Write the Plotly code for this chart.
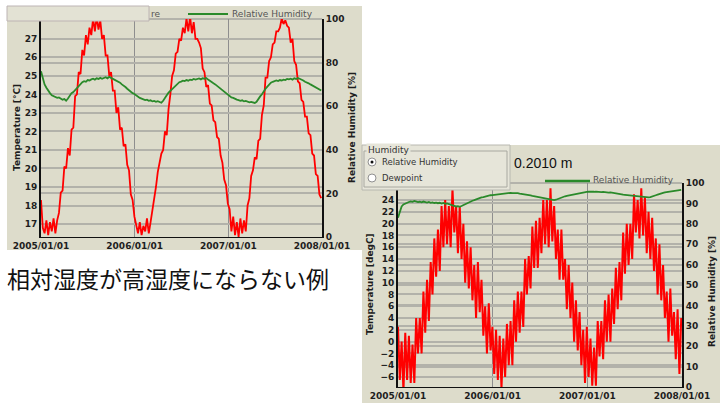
import pandas as pd
import plotly.graph_objects as go

# ---------------- data ----------------
dates = pd.date_range("2005-01-01", periods=157, freq="7D")
year_ticks = ["2005-01-01", "2006-01-01", "2007-01-01", "2008-01-01"]
year_labels = ["2005/01/01", "2006/01/01", "2007/01/01", "2008/01/01"]

# left chart: temperature [degC] (weekly)
temp_a = [
    18.3, 16.8, 16.5, 17.2, 16.4, 17.1, 16.6, 17.3, 16.5, 17.2, 17.6, 18.7, 18.8, 20.1, 20.0, 21.1,
    20.7, 22.1, 22.2, 23.9, 24.0, 25.2, 25.1, 26.4, 26.1, 27.2, 26.7, 27.6, 27.2, 28.1, 27.4, 28.2,
    27.5, 28.0, 27.0, 27.2, 26.1, 26.1, 25.0, 25.2, 24.2, 24.2, 23.0, 23.3, 22.1, 22.2, 21.2, 21.3,
    20.2, 19.9, 18.6, 18.3,
    17.4, 17.0, 16.5, 17.1, 16.4, 16.9, 16.6, 17.3, 16.5, 17.1, 17.7, 18.5, 19.0, 19.8, 20.3, 20.8,
    21.0, 22.0, 21.8, 23.2, 24.0, 25.0, 25.3, 26.2, 26.3, 27.0, 26.9, 27.6, 27.3, 28.1, 27.4, 28.2,
    27.3, 27.9, 27.0, 27.0, 26.8, 26.5, 25.4, 25.2, 24.4, 24.5, 23.5, 23.4, 22.6, 22.5, 21.7, 21.6,
    20.7, 20.3, 19.4, 19.1,
    18.1, 17.8, 16.6, 17.4, 16.4, 17.1, 16.3, 17.3, 16.5, 17.2, 16.6, 18.0, 18.4, 19.6, 19.9, 20.6,
    20.5, 21.5, 21.6, 22.9, 23.4, 24.9, 24.9, 25.8, 26.0, 26.7, 26.8, 27.4, 27.4, 27.6, 28.1, 27.8,
    28.0, 27.7, 27.6, 26.8, 27.0, 25.8, 25.6, 24.7, 24.6, 23.7, 23.6, 22.8, 22.8, 21.9, 21.8, 20.8,
    20.7, 19.7, 19.6, 18.6, 18.4,
]
# left chart: relative humidity [%]
rh_a = [
    76, 73, 70, 68.5, 67, 66, 65, 64.5, 64, 63.8, 64, 63.5, 63, 63.3, 62.5, 63.5,
    64.8, 66, 66.5, 67.5, 68.5, 69, 70.5, 71, 71.5, 71.2, 72, 71.8, 72.3, 72.6, 72.2, 72.8,
    72.5, 73, 72.6, 73, 73.3, 72.8, 73.5, 73, 72.6, 72.2, 71.5, 71.2, 70.8, 70, 69.5, 68.8,
    68, 67.3, 66.5, 66, 65.6,
    65, 64.2, 63.8, 63.5, 63.2, 62.8, 63, 62.5, 62.7, 62.2, 62.4, 62, 62.3, 61.8, 61.6, 62.5,
    64, 65, 66.2, 67, 68, 69, 69.8, 70.5, 71, 71.3, 71.7, 71.5, 72, 71.7, 72.2, 72,
    72.5, 72.2, 72.4, 72.7, 72.3, 72.8, 72.6, 72.9, 72.2, 71.5, 70.8, 70.5, 70, 69.3, 68.5, 68,
    67.3, 66.5, 66, 65.2,
    64.5, 64, 63.8, 63.2, 63, 62.8, 62.5, 62.7, 62.2, 62.4, 62, 61.8, 62, 61.6, 61.5, 62,
    63.5, 64.5, 65.5, 67, 68, 69, 70, 70.8, 71.2, 71.5, 71.8, 71.5, 72, 71.8, 72.2, 72,
    72.5, 72.3, 72.6, 72.2, 72.8, 72.5, 72.9, 72.6, 72.3, 71.8, 71.2, 71, 70.5, 70, 69.5, 69,
    68.5, 68.2, 67.8, 67.2,
]
# right chart: temperature [degC]
temp_b = [
    2.5, -6.5, 0, -8.5, 1.5, -6.5, 1, -7, -0.5, -7, 4, -2, 4, -2, 8.5, 1.5,
    10.5, 3.5, 13.5, 8, 17.5, 11, 19, 12, 23, 16, 24, 16.5, 23, 16, 26, 18.5,
    23, 15, 23, 14, 20, 10, 17, 9, 16, 7, 13, 4, 13.5, 5, 10.5, 1,
    6, -2, 6.5, -1.5, 2.5,
    -5.5, 2, -6.5, 1, -8, 0.5, -6, 3, -4, 3.5, -4, 7, 0, 8.5, 1.5, 8.5,
    2.5, 14, 8, 14.5, 9, 19.5, 12.5, 20.5, 12.5, 21, 15, 24, 16.5, 24, 16, 26,
    17, 23, 14, 19, 10.5, 19, 10.5, 14, 5.5, 13, 4, 10, 0, 7, -1.5, 5,
    -4, 2, -7, 2.5,
    -6, 0.5, -7.5, -1, -7.5, 3.5, -2.5, 3.5, -3, 7, 0, 8, 0, 9, 3, 12.5,
    5.5, 13.5, 7, 18.5, 11.5, 20, 13, 20, 14, 25, 18.5, 24, 17.5, 26, 18, 24.5,
    15, 22, 14, 21, 12, 17.5, 8, 16.5, 7, 13, 4, 8.5, 0, 9, 1, 5,
    -3, 5.5, -5.5, 4,
]
# right chart: relative humidity [%]
rh_b = [
    83, 86.5, 88.5, 89.5, 90, 90.5, 90.7, 91, 90.8, 91.2, 91, 90.6, 90.8, 90.5, 90.9, 90.6,
    90.4, 90.7, 90.3, 90.5, 90.2, 90.4, 90.1, 90.3, 89.9, 90.2, 89.8, 90, 89.6, 89.3, 89, 88.8,
    88.5, 88.6, 88.3, 88.7, 89.2, 89.6, 90.1, 90.5, 90.9, 91.3, 91.6, 92, 92.3, 92.6, 92.9, 93.1,
    93.4, 93.6, 93.8, 94, 94.1,
    94.2, 94.4, 94.5, 94.7, 94.8, 94.9, 95, 95.1, 95, 95.2, 95, 95.1, 94.9, 95, 94.8, 94.7,
    94.5, 94.4, 94.2, 94, 93.9, 93.7, 93.5, 93.4, 93.3, 93.2, 93, 92.7, 92.5, 92.3, 92, 91.9,
    91.7, 91.6, 91.8, 92.2, 92.5, 92.9, 93.2, 93.5, 93.7, 93.9, 94.1, 94.3, 94.5, 94.7, 94.9, 95.1,
    95.3, 95.4, 95.5, 95.6,
    95.7, 95.6, 95.8, 95.7, 95.8, 95.6, 95.7, 95.5, 95.6, 95.4, 95.5, 95.3, 95.4, 95.2, 95.1, 94.9,
    94.8, 94.6, 94.5, 94.3, 94.2, 94.1, 94, 93.8, 93.7, 93.5, 93.4, 93.3, 93.2, 93.1, 93, 93,
    92.9, 93, 93.1, 93.3, 93.6, 94, 94.3, 94.7, 95, 95.2, 95.4, 95.5, 95.6, 95.7, 95.9, 96,
    96.2, 96.3, 96.4, 96.6,
]
temp_ticks_a = list(range(17, 28))
rh_ticks_a = [0, 20, 40, 60, 80, 100]
temp_ticks_b = list(range(-6, 25, 2))
rh_ticks_b = list(range(0, 101, 10))

# ---------------- style ----------------
W, H = 720, 403
BG = "#dddccb"
GRID = "#b2b2aa"
RED = "#ff0000"
GREEN = "#2a8a2a"
TICKFONT = dict(family="DejaVu Sans", size=9, color="#1e1e1e", weight="bold")


def fx(x):
    return x / W


def fy(y):
    return 1 - y / H


fig = go.Figure()
fig.add_trace(go.Scatter(x=dates, y=temp_a, mode="lines", line=dict(color=RED, width=1.8),
                         xaxis="x", yaxis="y", hoverinfo="skip"))
fig.add_trace(go.Scatter(x=dates, y=rh_a, mode="lines", line=dict(color=GREEN, width=1.8),
                         xaxis="x", yaxis="y2", hoverinfo="skip"))
fig.add_trace(go.Scatter(x=dates, y=temp_b, mode="lines", line=dict(color=RED, width=2.0),
                         xaxis="x2", yaxis="y3", hoverinfo="skip"))
fig.add_trace(go.Scatter(x=dates, y=rh_b, mode="lines", line=dict(color=GREEN, width=1.8),
                         xaxis="x2", yaxis="y4", hoverinfo="skip"))

xcommon = dict(type="date", tickvals=year_ticks, ticktext=year_labels, showgrid=True,
               gridcolor="#8e8e8e", gridwidth=1, showline=True, linecolor="#111111",
               linewidth=1, ticks="", ticklen=0, tickfont=TICKFONT, zeroline=False,
               automargin=False, range=["2005-01-01", "2008-01-01"])
ycommon = dict(showgrid=True, gridcolor=GRID, gridwidth=2, showline=True, automargin=False,
               linecolor="#111111", linewidth=2, ticks="", ticklen=0, tickfont=TICKFONT,
               zeroline=False)

fig.update_layout(
    width=W, height=H, margin=dict(l=0, r=0, t=0, b=0, autoexpand=False),
    paper_bgcolor="white", plot_bgcolor="rgba(0,0,0,0)", showlegend=False,
    xaxis=dict(domain=[fx(41), fx(322)], anchor="y", **xcommon),
    yaxis=dict(domain=[fy(237), fy(19)], range=[16.3, 28.07], tickvals=temp_ticks_a, **ycommon),
    yaxis2=dict(overlaying="y", side="right", anchor="x", range=[0, 100],
                tickvals=rh_ticks_a, **ycommon),
    xaxis2=dict(domain=[fx(398), fx(682)], anchor="y3", **xcommon),
    yaxis3=dict(domain=[fy(387), fy(183)], range=[-7.7, 26.9], tickvals=temp_ticks_b,
                anchor="x2", **ycommon),
    yaxis4=dict(overlaying="y3", side="right", anchor="x2", range=[0, 100],
                tickvals=rh_ticks_b, **ycommon),
)

shapes = []
# panel backgrounds
shapes.append(dict(type="rect", xref="paper", yref="paper", x0=fx(7), x1=fx(362), y0=fy(250),
                   y1=fy(6), fillcolor=BG, line=dict(width=0), layer="below"))
shapes.append(dict(type="rect", xref="paper", yref="paper", x0=fx(362), x1=fx(720), y0=fy(403),
                   y1=fy(145), fillcolor=BG, line=dict(width=0), layer="below"))
# plot top borders
shapes.append(dict(type="line", xref="paper", yref="paper", x0=fx(41), x1=fx(322), y0=fy(19),
                   y1=fy(19), line=dict(color="#8a8a8a", width=1), layer="below"))
shapes.append(dict(type="line", xref="paper", yref="paper", x0=fx(398), x1=fx(682), y0=fy(183),
                   y1=fy(183), line=dict(color="#8a8a8a", width=1), layer="below"))
# overlapping box on the left chart
shapes.append(dict(type="rect", xref="paper", yref="paper", x0=fx(7), x1=fx(149), y0=fy(21),
                   y1=fy(6), fillcolor="#e3e2d4", line=dict(color="#bdb4b4", width=1)))
# legend sample lines
shapes.append(dict(type="line", xref="paper", yref="paper", x0=fx(188), x1=fx(228), y0=fy(14),
                   y1=fy(14), line=dict(color=GREEN, width=2)))
shapes.append(dict(type="line", xref="paper", yref="paper", x0=fx(545), x1=fx(590), y0=fy(181),
                   y1=fy(181), line=dict(color=GREEN, width=2.5)))
# Humidity group box
shapes.append(dict(type="rect", xref="paper", yref="paper", x0=fx(362), x1=fx(510), y0=fy(190),
                   y1=fy(145), fillcolor="#e6e5d9", line=dict(color="#b8b8b0", width=1)))
shapes.append(dict(type="rect", xref="paper", yref="paper", x0=fx(364), x1=fx(507), y0=fy(187),
                   y1=fy(151), fillcolor="rgba(0,0,0,0)", line=dict(color="#a8a8a0", width=1)))
# radio buttons
for cy in (162, 178):
    shapes.append(dict(type="circle", xref="paper", yref="paper", x0=fx(368), x1=fx(376),
                       y0=fy(cy + 4), y1=fy(cy - 4), fillcolor="white",
                       line=dict(color="#909090", width=1)))
shapes.append(dict(type="circle", xref="paper", yref="paper", x0=fx(370.5), x1=fx(373.5),
                   y0=fy(163.5), y1=fy(160.5), fillcolor="#111111", line=dict(width=0)))
fig.update_layout(shapes=shapes)

ann = []


def text(x, y, s, size=9, color="#1e1e1e", xanchor="left", angle=0, weight="normal",
         family="DejaVu Sans", bg=None):
    d = dict(xref="paper", yref="paper", x=fx(x), y=fy(y), text=s, showarrow=False,
             xanchor=xanchor, yanchor="middle", textangle=angle, align="left",
             font=dict(family=family, size=size, color=color, weight=weight))
    if bg:
        d["bgcolor"] = bg
    ann.append(d)


# axis titles
text(17, 128, "Temperature [°C]", angle=-90, xanchor="center", weight="bold")
text(352, 128, "Relative Humidity [%]", angle=-90, xanchor="center", weight="bold")
text(370, 284, "Temperature [degC]", angle=-90, xanchor="center", weight="bold")
text(712, 292, "Relative Humidity [%]", angle=-90, xanchor="center", weight="bold")
# legends
text(149, 14, "re", size=9, color="#555555")
text(230, 14, "Relative Humidity", size=9, color="#555555")
text(591, 180, "Relative Humidity", size=9, color="#555555")
# group box
text(366, 150, "Humidity", size=9, color="#333333", bg="#e6e5d9")
text(380, 162, "Relative Humidity", size=8.5, color="#333333")
text(380, 178, "Dewpoint", size=8.5, color="#333333")
text(512, 163, "0.2010 m", size=14, color="#111111", family="Liberation Sans")
# caption
text(5, 278, "相対湿度が高湿度にならない例", size=23, color="#111111",
     family="Noto Sans CJK JP")
fig.update_layout(annotations=ann)

fig.write_html("out.html", config={"displayModeBar": False},
               post_script="document.body.style.margin='0px';document.body.style.overflow='hidden';")
